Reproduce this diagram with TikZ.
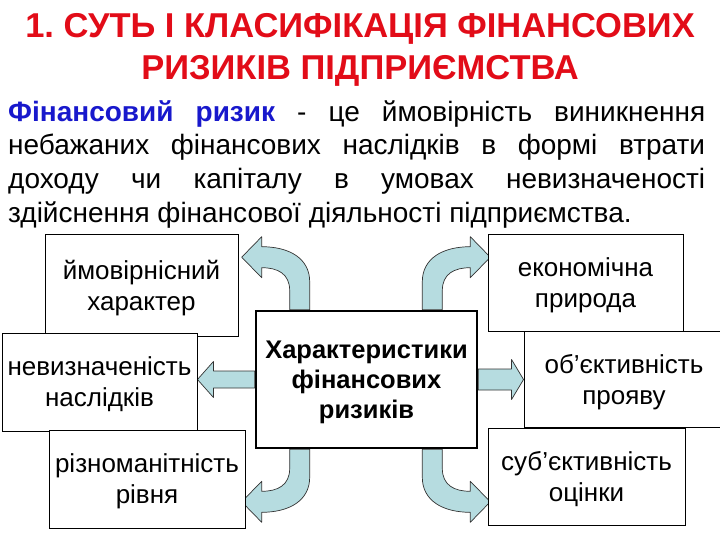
\documentclass[tikz,border=0pt]{standalone}
\usepackage{fontspec}
\setmainfont{Liberation Sans}
\usetikzlibrary{calc, backgrounds}
\definecolor{titlered}{RGB}{226,12,24}
\definecolor{termblue}{RGB}{24,24,204}
\definecolor{arrowfill}{RGB}{182,220,224}
\hyphenpenalty=10000
\exhyphenpenalty=10000
\frenchspacing

\begin{document}
\begin{tikzpicture}[x=1pt, y=-1pt,
  heading/.style={text=titlered, align=center, inner sep=0pt, font=\bfseries\fontsize{34.5}{42}\selectfont},
  defn/.style={text width=697pt, align=justify, inner sep=0pt, font=\fontsize{28}{33.8}\selectfont},
  featbox/.style={draw=black, line width=0.9pt, fill=white, align=center, inner sep=0pt, text depth=-9pt, font=\fontsize{26}{31}\selectfont},
  corebox/.style={draw=black, line width=2.6pt, fill=white, align=center, inner sep=0pt, text depth=-4pt, font=\bfseries\fontsize{25.5}{30}\selectfont},
  blockarrow/.style={fill=arrowfill, draw=black!80, line width=0.7pt, line join=round},
  bent arrow/.pic={
    \filldraw[blockarrow] (-10,0) -- (-10,28) .. controls (-10,51) and (10,63) .. (38,63) -- (38,73)
      -- (58,52.5) -- (38,32) -- (38,42) .. controls (22,42) and (10,36) .. (10,19) -- (10,0) -- cycle;
  }]
  \useasboundingbox (0,0) rectangle (720,540);

  \node[heading, anchor=north] (head) at (360,13) {1. СУТЬ І КЛАСИФІКАЦІЯ ФІНАНСОВИХ\\РИЗИКІВ ПІДПРИЄМСТВА};
  \node[defn, anchor=north west] (defn) at (8,100) {{\color{termblue}\bfseries Фінансовий ризик} - це ймовірність виникнення\linebreak
    небажаних фінансових наслідків в формі втрати\linebreak
    доходу чи капіталу в умовах невизначеності\linebreak
    здійснення фінансової діяльності підприємства.};

  \node[corebox, minimum width=221pt, minimum height=137pt] (core) at (366.5,379.5) {Характеристики\\фінансових\\ризиків};
  \node[featbox, minimum width=193pt, minimum height=102pt] (prob) at (141.5,285) {ймовірнісний\\характер};
  \node[featbox, minimum width=195pt, minimum height=98pt] (unc) at (99.5,382) {невизначеність\\наслідків};
  \node[featbox, minimum width=196pt, minimum height=98pt] (lvl) at (147,479) {різноманітність\\рівня};
  \node[featbox, minimum width=195pt, minimum height=97pt] (econ) at (585.5,282.5) {економічна\\природа};
  \node[featbox, minimum width=200pt, minimum height=96pt] (obj) at (624,379) {об'єктивність\\прояву};
  \node[featbox, minimum width=197pt, minimum height=97pt] (subj) at (586.5,476.5) {суб'єктивність\\оцінки};

  \begin{scope}[on background layer]
    \pic[xscale=-1, yscale=-1] at ($(core.north west)+(45,0)$) {bent arrow};
    \pic[yscale=-1] at ($(core.north east)+(-46,0)$) {bent arrow};
    \pic[xscale=-1] at ($(core.south west)+(45,0)$) {bent arrow};
    \pic at ($(core.south east)+(-46,0)$) {bent arrow};
    \filldraw[blockarrow] ($(core.west)+(0,-8.5)$) -- ($(core.west -| unc.east)+(16,-8.5)$) -- ($(core.west -| unc.east)+(16,-18)$)
      -- (core.west -| unc.east) -- ($(core.west -| unc.east)+(16,18)$) -- ($(core.west -| unc.east)+(16,8.5)$) -- ($(core.west)+(0,8.5)$) -- cycle;
    \filldraw[blockarrow] ($(core.east)+(0,-10.5)$) -- ($(core.east -| obj.west)+(-12,-10.5)$) -- ($(core.east -| obj.west)+(-12,-20)$)
      -- (core.east -| obj.west) -- ($(core.east -| obj.west)+(-12,20)$) -- ($(core.east -| obj.west)+(-12,10.5)$) -- ($(core.east)+(0,10.5)$) -- cycle;
  \end{scope}
\end{tikzpicture}
\end{document}
